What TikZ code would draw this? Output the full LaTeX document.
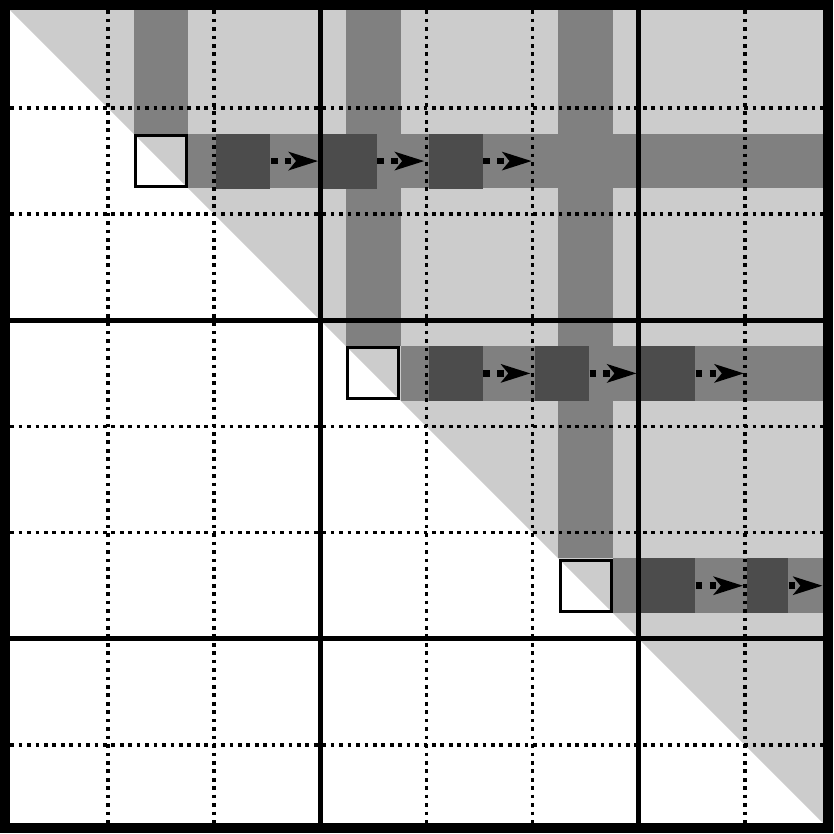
\documentclass[tikz,border=0pt]{standalone}
\usetikzlibrary{arrows.meta}

\begin{document}
\begin{tikzpicture}[x=0.5308cm,y=-0.5308cm,
        flow/.style={line width=1.85pt,dash pattern=on 1.85pt off 2.1pt,shorten >=1pt,-{Stealth[length=8.3pt,width=5.1pt,inset=2pt]}},
        pivot/.style={shape=rectangle,draw=black,line width=0.85pt,minimum size=0.51cm,inner sep=0pt},
        upd/.style={shape=rectangle,fill=black!70,minimum width=0.541cm,minimum height=0.55cm,inner sep=0pt},
        band/.style={fill=black!50},
        cellline/.style={line width=1.05pt,dash pattern=on 1.05pt off 1.35pt},
        blockline/.style={line width=1.42pt}]

        \useasboundingbox (-0.0345,-0.0345) rectangle (15.678,15.678);

        \begin{scope}
            \clip (0.055,0.055) rectangle (15.57,15.57);

            % Upper triangle
            \fill[black!20] (0,0) -- (16,0) -- (16,16) -- cycle;

            % Row and column bands
            \fill[band] (2.485,0) rectangle (3.515,2.485);
            \fill[band] (3.515,2.485) rectangle (16,3.515);
            \fill[band] (6.485,0) rectangle (7.515,6.485);
            \fill[band] (7.515,6.485) rectangle (16,7.515);
            \fill[band] (10.485,0) rectangle (11.515,10.485);
            \fill[band] (11.515,10.485) rectangle (16,11.515);

            % Pivot boxes
            \node[pivot] (p1) at (3,3) {};
            \node[pivot] (p2) at (7,7) {};
            \node[pivot] (p3) at (11,11) {};

            % Updated blocks
            \node[upd] (d11) at (4.55,3) {};
            \node[upd] (d12) at (6.55,3) {};
            \node[upd] (d13) at (8.55,3) {};
            \node[upd] (d21) at (8.55,7) {};
            \node[upd] (d22) at (10.55,7) {};
            \node[upd] (d23) at (12.55,7) {};
            \node[upd] (d31) at (12.55,11) {};
            \node[upd,minimum width=0.409cm] (d32) at (14.43,11) {};
            \coordinate (e1) at (10.05,3);
            \coordinate (e2) at (14.05,7);
            \coordinate (e3) at (15.53,11);

            % Cell lines
            \draw[cellline] (2,0) -- (2,16);
            \draw[cellline] (4,0) -- (4,16);
            \draw[cellline] (8,0) -- (8,16);
            \draw[cellline] (10,0) -- (10,16);
            \draw[cellline] (14,0) -- (14,16);
            \draw[cellline] (0,2) -- (16,2);
            \draw[cellline] (0,4) -- (16,4);
            \draw[cellline] (0,8) -- (16,8);
            \draw[cellline] (0,10) -- (16,10);
            \draw[cellline] (0,14) -- (16,14);

            % Block lines
            \draw[blockline] (6,0) -- (6,16);
            \draw[blockline] (12,0) -- (12,16);
            \draw[blockline] (0,6) -- (16,6);
            \draw[blockline] (0,12) -- (16,12);

            % Arrows along the rows
            \path[flow] (d11) edge (d12);
            \path[flow] (d12) edge (d13);
            \path[flow] (d13) edge (e1);
            \path[flow] (d21) edge (d22);
            \path[flow] (d22) edge (d23);
            \path[flow] (d23) edge (e2);
            \path[flow] (d31) edge (d32);
            \path[flow] (d32) edge (e3);
        \end{scope}

        % Frame
        \draw[line width=2.8pt] (0.055,0.055) rectangle (15.57,15.57);

\end{tikzpicture}
\end{document}
